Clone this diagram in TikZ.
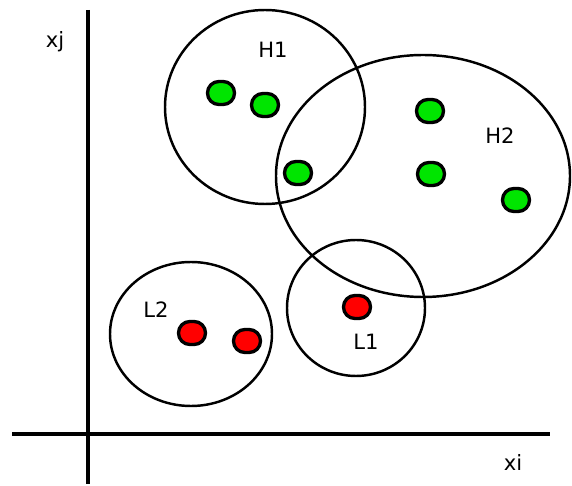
\documentclass[tikz,border=0pt]{standalone}
\usepackage{fontspec}
\setmainfont{DejaVu Sans}

\tikzset{
    blob/.style={draw, line width=1.9pt, rounded corners=6.5pt,
        minimum width=0.54cm, minimum height=0.46cm, inner sep=0pt},
    hi/.style={blob, fill=green!90!black!100},
    lo/.style={blob, fill=red},
    ring/.style={line width=1.4pt},
    lbl/.style={font=\fontsize{12}{14}\selectfont}
}

\begin{document}
\begin{tikzpicture}[x=0.02cm, y=-0.02cm]
    \useasboundingbox (0,0) rectangle (572,486);
    % axes
    \coordinate (T) at (88,10);
    \coordinate (Bt) at (88,484);
    \coordinate (L) at (12,434);
    \coordinate (R) at (550,434);
    \draw [line width=2.2pt] (T)--(Bt);
    \draw [line width=2.2pt] (L)--(R);
    \node[lbl] (XJ) at (55,42) {xj};
    \node[lbl] (XI) at (513,462) {xi};
    % clusters
    \draw [ring] (265,107) ellipse [x radius=100, y radius=97];
    \draw [ring] (423,176) ellipse [x radius=147, y radius=121];
    \draw [ring] (356,308) ellipse [x radius=69, y radius=68];
    \draw [ring] (191,334) ellipse [x radius=81, y radius=72];
    \node[lbl] (H1) at (273,50) {H1};
    \node[lbl] (H2) at (500,136) {H2};
    \node[lbl] (L1) at (366,342) {L1};
    \node[lbl] (L2) at (156,310) {L2};
    % points
    \node[hi] (g1) at (221,93) {};
    \node[hi] (g2) at (265,105) {};
    \node[hi] (g3) at (298,173) {};
    \node[hi] (g4) at (430,111) {};
    \node[hi] (g5) at (431,174) {};
    \node[hi] (g6) at (516,200) {};
    \node[lo] (r1) at (357,307) {};
    \node[lo] (r2) at (192,333) {};
    \node[lo] (r3) at (247,341) {};
\end{tikzpicture}
\end{document}
